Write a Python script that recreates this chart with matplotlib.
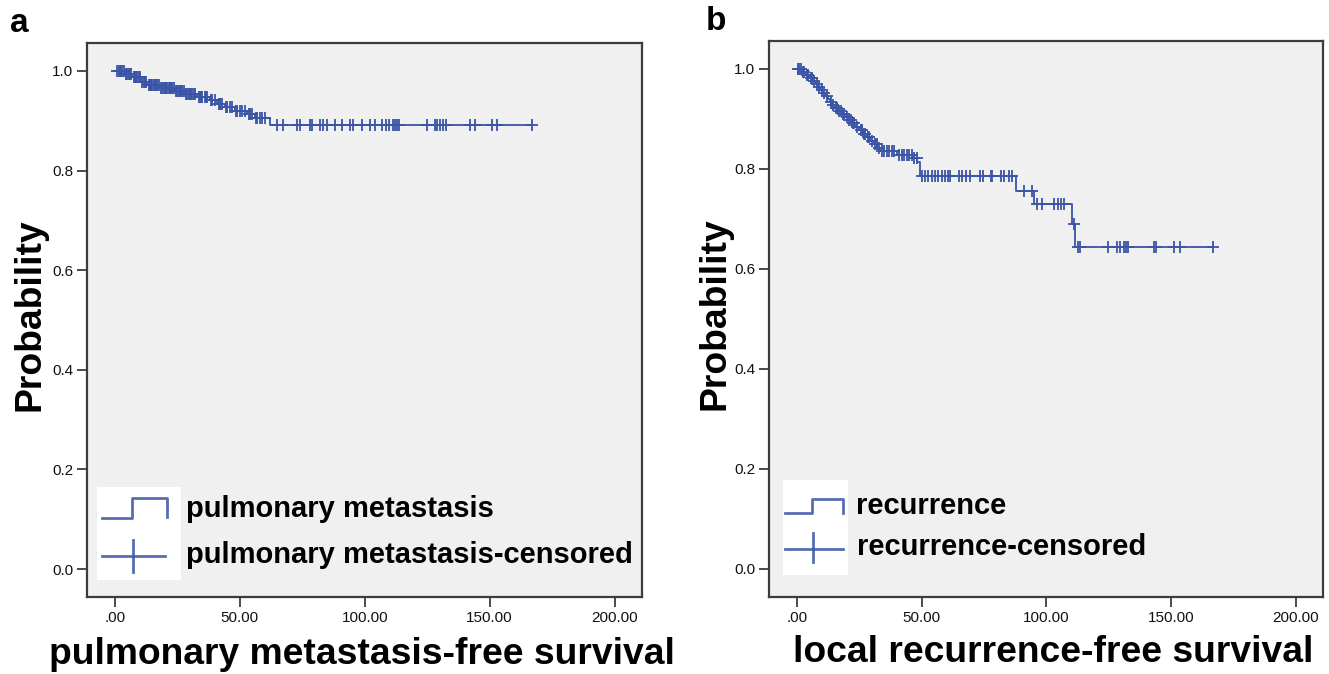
import numpy as np
import matplotlib
matplotlib.use("Agg")
import matplotlib.pyplot as plt
from matplotlib.lines import Line2D
from matplotlib.patches import Rectangle

plt.rcParams['font.family'] = ['Liberation Sans', 'DejaVu Sans']

# ---------------- data ----------------
# Panel a: pulmonary metastasis-free survival (Kaplan-Meier steps)
event_t_a = [0, 4, 7, 10.5, 13, 18, 24, 28, 33, 38, 41, 44, 48, 53, 56, 62]
surv_a = [1.0, 0.994, 0.988, 0.978, 0.972, 0.966, 0.960, 0.954, 0.948, 0.941,
          0.934, 0.927, 0.920, 0.913, 0.906, 0.892]
censor_t_a = [1, 1.5, 2, 2.5, 3, 3.5, 4.5, 5, 5.5, 6, 6.5, 7.5, 8, 8.5, 9, 9.5,
              10, 11, 11.5, 12, 12.5, 13.5, 14, 14.5, 15, 15.5, 16, 16.5, 17,
              17.5, 18.5, 19, 19.5, 20, 20.5, 21, 21.5, 22, 22.5, 23, 23.5, 24.5,
              25, 25.5, 26, 26.5, 27, 27.5, 28.5, 29, 29.5, 30, 30.5, 31, 31.5,
              32, 33.5, 34, 34.5, 35, 36, 36.5, 37, 38.5, 39, 40, 41.5, 42, 43,
              44.5, 45, 46, 47, 48.5, 49, 50, 51, 52, 53.5, 54, 55, 56.5, 57, 58,
              59, 60, 64.9, 67.3, 72.9, 74.1, 78.2, 79, 82.2, 83.4, 85, 88.2, 91,
              94.2, 95.4, 99, 102.2, 104.2, 107, 108.6, 109.8, 111.4, 112.2, 113,
              113.8, 125, 128.3, 129, 130.3, 131.5, 132.7, 142.3, 144.3, 151.1,
              153.1, 167.1]

# Panel b: local recurrence-free survival
event_t_b = [0, 2.0, 3.5, 5.0, 6.5, 7.5, 8.5, 9.5, 10.5, 11.5, 12.5, 13.2, 14.0,
             15.0, 16.5, 18.0, 19.5, 20.5, 22.0, 23.5, 25.0, 26.5, 28.0, 29.5,
             31.0, 32.3, 33.5, 40.0, 46.5, 48.3, 49.3, 87.9, 95.1, 110.3, 111.5]
surv_b = [1.0, 0.994, 0.988, 0.982, 0.976, 0.970, 0.964, 0.958, 0.952, 0.946,
          0.940, 0.934, 0.928, 0.922, 0.916, 0.910, 0.904, 0.898, 0.892, 0.885,
          0.878, 0.871, 0.864, 0.857, 0.850, 0.843, 0.836, 0.829, 0.822, 0.815,
          0.786, 0.757, 0.731, 0.691, 0.645]
censor_t_b = [0.5, 1, 1.5, 2.5, 3, 4, 4.5, 5.5, 6, 7, 8, 9, 10, 11, 12, 13.5, 14.5,
              15.5, 16, 17, 17.5, 18.5, 19, 20, 21, 21.5, 22.5, 23, 24, 25.5, 26,
              27, 27.5, 28.5, 29, 30, 31.5, 32, 33, 34, 35, 36, 37, 38, 39, 41, 42,
              43, 44, 45, 46, 47, 48, 50, 51.3, 52.5, 54.1, 55.2, 56.4, 58, 59.2,
              60.4, 61.2, 65.2, 66.4, 68, 69.3, 73.3, 74.5, 78, 78.4, 82, 83.2,
              85.1, 86.3, 91.1, 94.3, 96.3, 98.3, 103.1, 104.7, 105.9, 107.1,
              111.1, 112.9, 113.7, 124.9, 128.3, 129.5, 131.1, 131.9, 132.7,
              143.1, 143.9, 151.1, 153.5, 167]

yticks = [0.0, 0.2, 0.4, 0.6, 0.8, 1.0]
ytick_labels = ['0.0', '0.2', '0.4', '0.6', '0.8', '1.0']
xticks = [0, 50, 100, 150, 200]
xtick_labels = ['.00', '50.00', '100.00', '150.00', '200.00']

panels = [
    dict(letter='a', times=event_t_a, surv=surv_a, cens=censor_t_a,
         xlabel='pulmonary metastasis-free survival',
         leg=['pulmonary metastasis', 'pulmonary metastasis-censored']),
    dict(letter='b', times=event_t_b, surv=surv_b, cens=censor_t_b,
         xlabel='local recurrence-free survival',
         leg=['recurrence', 'recurrence-censored']),
]

# ---------------- layout ----------------
W, H = 1329, 674
fig = plt.figure(figsize=(W / 100, H / 100), dpi=100)
fig.patch.set_facecolor('white')

def fx(x):
    return x / W

def fy(y):
    return 1 - y / H

axes_px = [(87, 43, 642, 597), (769, 41, 1323, 597)]
ylabel_pos = [(30, 315), (715, 314)]
xlabel_pos = [(362, 655), (1053, 653)]
letter_pos = [(19, 24), (716, 22)]
leg_box = [(97, 487, 181, 580), (783, 480, 848, 575)]
leg_step = [((102, 518), (132, 498), (167, 517)), ((785, 513), (812, 499), (843, 513))]
leg_cens = [((102, 165, 556), (133, 540, 572)), ((785, 843, 549), (813, 533, 562))]
leg_text = [((186, 517), (186, 563)), ((856, 514), (857, 555))]

LINE = '#3a54a6'
SPINE = '#3c3c3c'

for i, p in enumerate(panels):
    l, t, r, b = axes_px[i]
    ax = fig.add_axes([fx(l), fy(b), (r - l) / W, (b - t) / H])
    ax.set_facecolor('#f0f0f0')
    ax.set_xlim(-11.2, 211)
    ax.set_ylim(-0.056, 1.056)

    times = np.array(p['times'], dtype=float)
    surv = np.array(p['surv'], dtype=float)
    cens = np.array(p['cens'], dtype=float)
    t_end = cens.max()
    ax.step(np.append(times, t_end), np.append(surv, surv[-1]), where='post',
            color=LINE, lw=1.3, zorder=3)
    idx = np.searchsorted(times, cens, side='right') - 1
    ax.plot(cens, surv[idx], ls='none', marker='+', ms=8, mew=1.3,
            color=LINE, zorder=4)

    ax.set_yticks(yticks)
    ax.set_yticklabels(ytick_labels)
    ax.set_xticks(xticks)
    ax.set_xticklabels(xtick_labels)
    ax.tick_params(axis='both', direction='out', length=7, width=1.3,
                   color=SPINE, labelsize=11, pad=3, labelcolor='#111111')
    ax.tick_params(top=False, right=False)
    for s in ax.spines.values():
        s.set_color(SPINE)
        s.set_linewidth(1.6)

    fig.text(fx(ylabel_pos[i][0]), fy(ylabel_pos[i][1]), 'Probability',
             rotation=90, ha='center', va='center', fontsize=26.8,
             fontweight='bold')
    fig.text(fx(xlabel_pos[i][0]), fy(xlabel_pos[i][1]), p['xlabel'],
             ha='center', va='center', fontsize=26.8, fontweight='bold')
    fig.text(fx(letter_pos[i][0]), fy(letter_pos[i][1]), p['letter'],
             ha='center', va='center', fontsize=24, fontweight='bold')

    # legend (SPSS style)
    bx0, by0, bx1, by1 = leg_box[i]
    fig.patches.append(Rectangle((fx(bx0), fy(by1)), (bx1 - bx0) / W,
                                 (by1 - by0) / H, transform=fig.transFigure,
                                 facecolor='white', edgecolor='none', zorder=5))
    (sx0, sy0), (sx1, sy1), (sx2, sy2) = leg_step[i]
    fig.add_artist(Line2D([fx(sx0), fx(sx1), fx(sx1), fx(sx2), fx(sx2)],
                          [fy(sy0), fy(sy0), fy(sy1), fy(sy1), fy(sy2)],
                          transform=fig.transFigure, color=LINE, lw=2.0,
                          alpha=0.85, zorder=6))
    (hx0, hx1, hy), (vx, vy0, vy1) = leg_cens[i]
    fig.add_artist(Line2D([fx(hx0), fx(hx1)], [fy(hy), fy(hy)],
                          transform=fig.transFigure, color=LINE, lw=2.0,
                          alpha=0.85, zorder=6))
    fig.add_artist(Line2D([fx(vx), fx(vx)], [fy(vy0), fy(vy1)],
                          transform=fig.transFigure, color=LINE, lw=2.0,
                          alpha=0.85, zorder=6))
    for (tx, ty), txt in zip(leg_text[i], p['leg']):
        fig.text(fx(tx), fy(ty), txt, ha='left', va='baseline', fontsize=21,
                 fontweight='bold', zorder=7)

fig.savefig('out.png', dpi=100, facecolor='white')
